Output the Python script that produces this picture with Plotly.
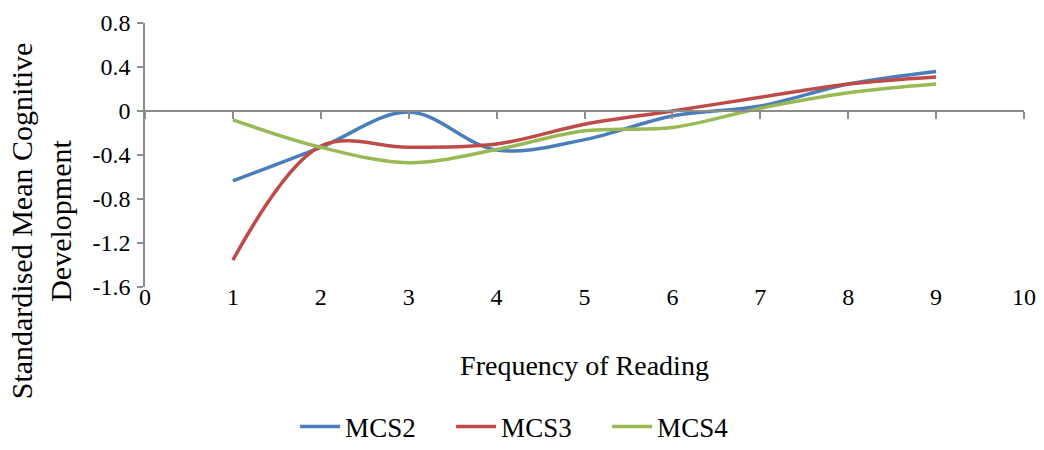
import plotly.graph_objects as go

# Frequency of reading categories and standardised mean cognitive scores
frequency = [1, 2, 3, 4, 5, 6, 7, 8, 9]
mcs2 = [-0.635, -0.33, -0.01, -0.355, -0.26, -0.045, 0.045, 0.245, 0.36]
mcs3 = [-1.355, -0.32, -0.33, -0.30, -0.12, 0.0, 0.125, 0.245, 0.31]
mcs4 = [-0.08, -0.33, -0.47, -0.35, -0.18, -0.15, 0.025, 0.165, 0.245]

x_ticks = list(range(0, 11))
y_ticks = [-1.6, -1.2, -0.8, -0.4, 0, 0.4, 0.8]
y_tick_text = ["-1.6", "-1.2", "-0.8", "-0.4", "0", "0.4", "0.8"]

series = [
    ("MCS2", mcs2, "#4A7EBB"),
    ("MCS3", mcs3, "#BE4B48"),
    ("MCS4", mcs4, "#98B954"),
]

FONT = "Liberation Serif"
AXIS_GREY = "#8C8C8C"
Y_MIN, Y_MAX = -1.6, 0.8

fig = go.Figure()
for name, values, color in series:
    fig.add_trace(go.Scatter(
        x=frequency, y=values, name=name, mode="lines",
        line=dict(color=color, width=3.5, shape="spline", smoothing=1.0),
    ))

# Invisible helper trace so the crossing axis at y = 0 is rendered
fig.add_trace(go.Scatter(x=[0], y=[0], xaxis="x2", mode="markers",
                         marker=dict(opacity=0), showlegend=False,
                         hoverinfo="skip"))

fig.update_layout(
    width=1044, height=450,
    margin=dict(l=145, r=20, t=23, b=163, autoexpand=False),
    paper_bgcolor="white", plot_bgcolor="white",
    font=dict(family=FONT, size=24, color="black"),
    showlegend=True,
    legend=dict(orientation="h", x=0.437, xanchor="center", y=-0.53,
                yanchor="middle", font=dict(family=FONT, size=27),
                itemwidth=40, tracegroupgap=0,
                entrywidth=101, entrywidthmode="pixels"),
    xaxis=dict(
        range=[0, 10], tickvals=x_ticks, ticktext=[str(v) for v in x_ticks],
        showline=False, showgrid=False, zeroline=False, ticks="",
        tickfont=dict(family=FONT, size=24), ticklabelstandoff=-7,
        title=dict(text="Frequency of Reading", standoff=46,
                   font=dict(family=FONT, size=28)),
    ),
    xaxis2=dict(
        range=[0, 10], tickvals=x_ticks, overlaying="x", anchor="free",
        position=(0 - Y_MIN) / (Y_MAX - Y_MIN), side="bottom",
        showline=True, linecolor=AXIS_GREY, linewidth=1.5,
        ticks="outside", ticklen=7, tickcolor=AXIS_GREY, tickwidth=1.5,
        showticklabels=False, showgrid=False, zeroline=False,
    ),
    yaxis=dict(
        range=[Y_MIN, Y_MAX], tickvals=y_ticks, ticktext=y_tick_text,
        showline=True, linecolor=AXIS_GREY, linewidth=1.5,
        ticks="outside", ticklen=6, tickcolor=AXIS_GREY, tickwidth=1.5,
        showgrid=False, zeroline=False, ticklabelstandoff=2,
        tickfont=dict(family=FONT, size=24),
    ),
)

# Two-line rotated y-axis title
fig.add_annotation(
    text="Standardised Mean Cognitive<br>Development",
    xref="paper", yref="paper", x=-0.118, y=0.25,
    xanchor="center", yanchor="middle", textangle=-90, showarrow=False,
    font=dict(family=FONT, size=30), align="center",
)

fig.write_html("out.html")
